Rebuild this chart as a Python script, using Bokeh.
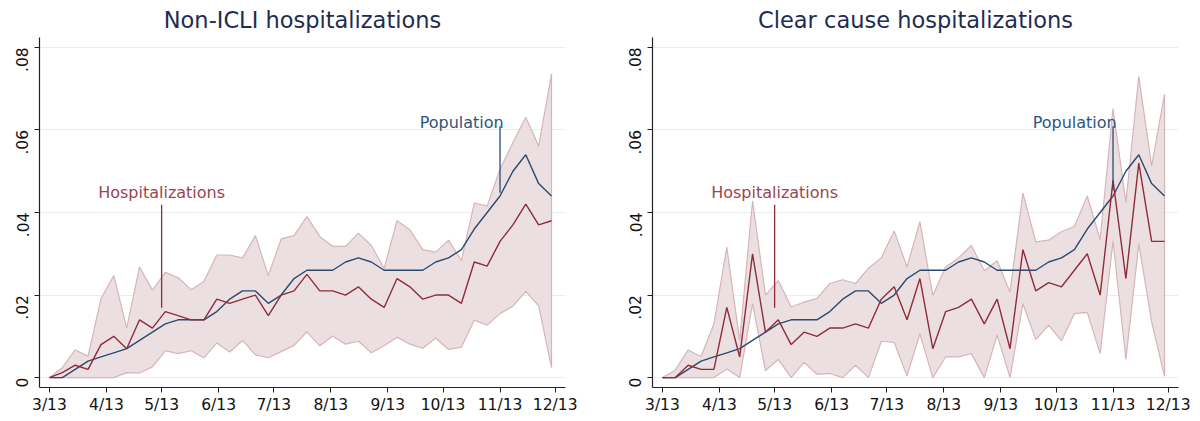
import math
import pandas as pd
from bokeh.plotting import figure
from bokeh.layouts import row
from bokeh.models import FixedTicker, ColumnDataSource
from bokeh.embed import file_html
from bokeh.resources import INLINE

# ---------------- data ----------------
dates = pd.date_range("2020-03-13", periods=40, freq="7D")
tick_dates = ["2020-03-13", "2020-04-13", "2020-05-13", "2020-06-13", "2020-07-13",
              "2020-08-13", "2020-09-13", "2020-10-13", "2020-11-13", "2020-12-13"]
tick_labels = ["3/13", "4/13", "5/13", "6/13", "7/13", "8/13", "9/13", "10/13", "11/13", "12/13"]
y_ticks = [0, 0.02, 0.04, 0.06, 0.08]
y_labels = ["0", ".02", ".04", ".06", ".08"]

population = [0, 0, 0.002, 0.004, 0.005, 0.006, 0.007, 0.009, 0.011, 0.013,
              0.014, 0.014, 0.014, 0.016, 0.019, 0.021, 0.021, 0.018, 0.020, 0.024,
              0.026, 0.026, 0.026, 0.028, 0.029, 0.028, 0.026, 0.026, 0.026, 0.026,
              0.028, 0.029, 0.031, 0.036, 0.040, 0.044, 0.050, 0.054, 0.047, 0.044]

nonicli_hosp = [0, 0.0012, 0.003, 0.002, 0.008, 0.010, 0.007, 0.014, 0.012, 0.016,
                0.015, 0.014, 0.014, 0.019, 0.018, 0.019, 0.020, 0.015, 0.020, 0.021,
                0.025, 0.021, 0.021, 0.020, 0.022, 0.019, 0.017, 0.024, 0.022, 0.019,
                0.020, 0.020, 0.018, 0.028, 0.027, 0.033, 0.037, 0.042, 0.037, 0.038]
nonicli_upper = [0, 0.0024, 0.0067, 0.0052, 0.0191, 0.0247, 0.012, 0.0268, 0.0212, 0.0255,
                 0.0242, 0.0213, 0.0233, 0.0297, 0.0297, 0.029, 0.0344, 0.0247, 0.0336, 0.0344,
                 0.039, 0.0342, 0.0318, 0.0318, 0.035, 0.032, 0.0265, 0.038, 0.0358, 0.031,
                 0.0304, 0.0333, 0.0283, 0.0423, 0.0416, 0.0505, 0.0569, 0.0631, 0.0561, 0.0736]
nonicli_lower = [0, 0, 0, 0, 0, 0, 0.0012, 0.0011, 0.0026, 0.0065,
                 0.0058, 0.0065, 0.0048, 0.0084, 0.0062, 0.009, 0.0055, 0.0048, 0.0063, 0.0078,
                 0.0111, 0.0077, 0.0101, 0.0081, 0.0088, 0.006, 0.0077, 0.0098, 0.0081, 0.0071,
                 0.0096, 0.0068, 0.0074, 0.0139, 0.0127, 0.0155, 0.0173, 0.0209, 0.0174, 0.0024]

clear_hosp = [0, 0, 0.003, 0.002, 0.002, 0.017, 0.005, 0.030, 0.011, 0.014,
              0.008, 0.011, 0.010, 0.012, 0.012, 0.013, 0.012, 0.019, 0.022, 0.014,
              0.024, 0.007, 0.016, 0.017, 0.019, 0.013, 0.019, 0.007, 0.031, 0.021,
              0.023, 0.022, 0.026, 0.030, 0.020, 0.0478, 0.024, 0.052, 0.033, 0.033]
clear_upper = [0, 0.0018, 0.0067, 0.0051, 0.013, 0.0316, 0.009, 0.0428, 0.0200, 0.0235,
               0.0171, 0.0183, 0.0192, 0.0228, 0.0237, 0.0228, 0.0265, 0.029, 0.0355, 0.0268,
               0.0378, 0.0199, 0.0268, 0.029, 0.032, 0.0259, 0.0283, 0.0207, 0.0447, 0.0329,
               0.0333, 0.0354, 0.0366, 0.0440, 0.0334, 0.0652, 0.0424, 0.0730, 0.0513, 0.0686]
clear_lower = [0, 0, 0, 0, 0, 0.0021, 0, 0.0179, 0.0017, 0.0044,
               0, 0.0037, 0.0008, 0.001, 0, 0.003, 0, 0.0088, 0.0085, 0.0004,
               0.0106, 0, 0.005, 0.005, 0.0058, 0, 0.0103, 0, 0.0179, 0.0092,
               0.0127, 0.0089, 0.0155, 0.0158, 0.0058, 0.033, 0.0044, 0.0324, 0.0135, 0.0003]

# ---------------- styling ----------------
FONT = "DejaVu Sans"
BLUE = "#2b4a6e"
RED = "#8e2d3a"
BAND_FILL = "#ecdfe1"
BAND_LINE = "#d6b5b9"
TITLE_C = "#1f2b52"
POP_TXT = "#2d5580"
HOSP_TXT = "#9a4550"
GRID_C = "#e4edf2"

t0 = dates[0]
xday = [(d - t0).days for d in dates]
xticks = [(pd.Timestamp(d) - t0).days for d in tick_dates]


def make_panel(title, hosp, upper, lower, width, left_b, right_b, pop_line_bottom):
    p = figure(width=width, height=416, output_backend="svg", toolbar_location=None,
               x_range=(-5.4, 280.6), y_range=(-0.0024, 0.0824),
               min_border_left=left_b, min_border_right=right_b,
               min_border_top=0, min_border_bottom=0)
    p.title.text = title
    p.title.text_font = FONT
    p.title.text_font_size = "22.5px"
    p.title.text_font_style = "normal"
    p.title.text_color = TITLE_C
    p.title.align = "center"
    p.title.padding = 3
    p.title.standoff = 3
    p.outline_line_color = None
    p.background_fill_color = "white"
    p.border_fill_color = "white"

    # band
    xs = xday + xday[::-1]
    ys = list(upper) + list(lower)[::-1]
    p.patch(xs, ys, fill_color=BAND_FILL, fill_alpha=1.0, line_color=BAND_LINE, line_width=1.2)

    src = ColumnDataSource(dict(x=xday, pop=population, hosp=hosp))
    p.line("x", "pop", source=src, line_color=BLUE, line_width=1.4)
    p.line("x", "hosp", source=src, line_color=RED, line_width=1.4)

    # annotations
    x_may = xticks[2]
    x_nov = xticks[8]
    p.segment(x0=[x_may], y0=[0.0169], x1=[x_may], y1=[0.0419], line_color=RED, line_width=1.3)
    p.text(x=[x_may], y=[0.0448], text=["Hospitalizations"], text_align="center",
           text_baseline="middle", text_color=HOSP_TXT, text_font_size="16px",
           text_font={"value": FONT})
    p.segment(x0=[x_nov], y0=[pop_line_bottom], x1=[x_nov], y1=[0.0609],
              line_color=BLUE, line_width=1.3)
    p.text(x=[x_nov + 2], y=[0.0619], text=["Population"], text_align="right",
           text_baseline="middle", text_color=POP_TXT, text_font_size="16px",
           text_font={"value": FONT})

    # axes
    p.xaxis.ticker = FixedTicker(ticks=xticks)
    p.xaxis.major_label_overrides = {t: l for t, l in zip(xticks, tick_labels)}
    p.yaxis.ticker = FixedTicker(ticks=y_ticks)
    p.yaxis.major_label_overrides = {t: l for t, l in zip(y_ticks, y_labels)}
    p.yaxis.major_label_orientation = math.pi / 2
    for ax in (p.xaxis[0], p.yaxis[0]):
        ax.axis_line_color = "#222222"
        ax.axis_line_width = 1.2
        ax.major_tick_line_color = "#222222"
        ax.major_tick_in = 0
        ax.major_tick_out = 5
        ax.minor_tick_line_color = None
        ax.major_label_text_font = FONT
        ax.major_label_text_font_size = "15.5px"
        ax.major_label_text_color = "#111111"
    p.xaxis.major_label_standoff = 3
    p.yaxis.major_label_standoff = 12
    p.xgrid.grid_line_color = None
    p.ygrid.grid_line_color = GRID_C
    p.ygrid.grid_line_width = 1.2
    return p


p1 = make_panel("Non-ICLI hospitalizations", nonicli_hosp, nonicli_upper, nonicli_lower,
                620, 39, 55, 0.0448)
p2 = make_panel("Clear cause hospitalizations", clear_hosp, clear_upper, clear_lower,
                571, 32, 13, 0.0454)

layout = row(p1, p2)
open("out.html", "w").write(file_html(layout, INLINE))
